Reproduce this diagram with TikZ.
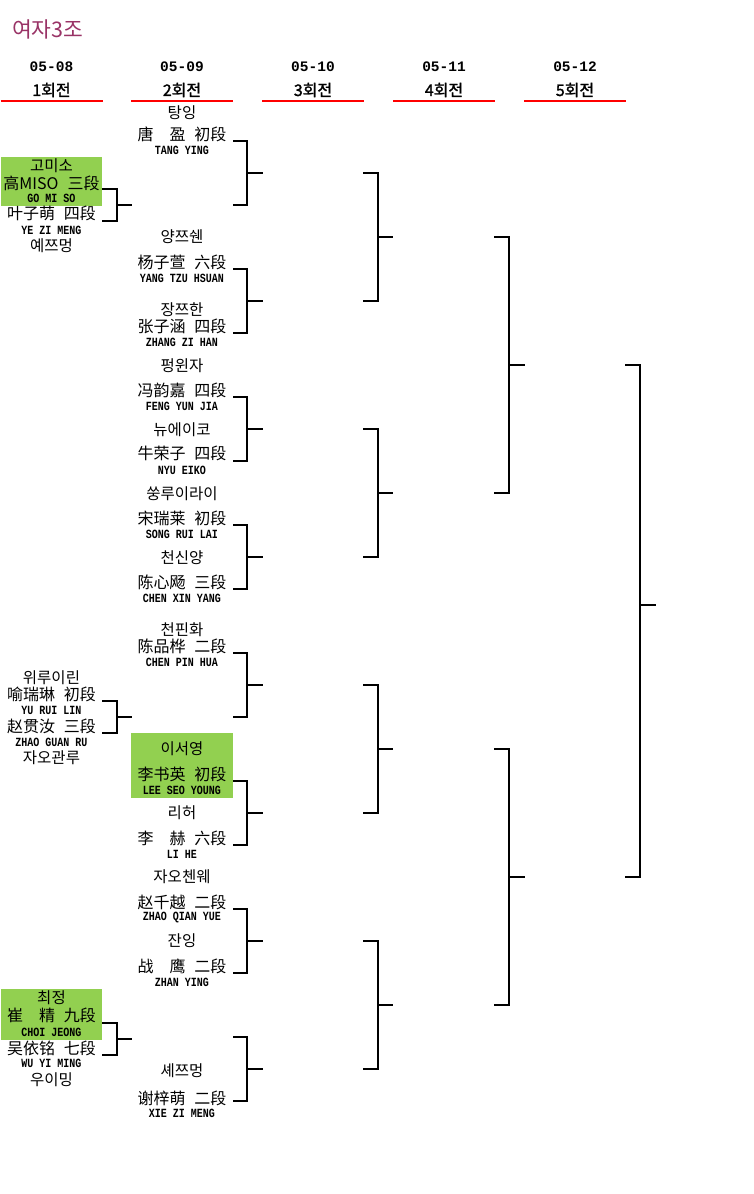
\documentclass[tikz,border=0pt]{standalone}
\usepackage{fontspec}
\usepackage{graphicx}
\newfontfamily\krf[AutoFakeBold=1.5]{Noto Sans CJK KR}
\newfontfamily\zhf[WordSpace=2.5]{Noto Sans CJK SC}
\newfontfamily\monof{Liberation Mono}
\definecolor{wgreen}{HTML}{92D050}
\definecolor{titlec}{HTML}{993366}
\newcommand\rs[1]{\scalebox{1}[1.25]{#1}}
\newcommand\brk[7]{%
  \coordinate (#1t) at (#2,#5);
  \coordinate (#1b) at (#2,#6);
  \coordinate (#1v) at (#3,#7);
  \coordinate (#1m) at (#4,#7);
  \draw[bline] (#1t) -| (#1v) |- (#1b);
  \draw[bline] (#1v) -- (#1m);
}
\tikzset{
  kr/.style={font=\krf\fontsize{15.5}{17}\selectfont, inner sep=0pt},
  zh/.style={font=\zhf\fontsize{16}{18}\selectfont, inner sep=0pt},
  ro/.style={font=\monof\bfseries\fontsize{10}{12}\selectfont, inner sep=0pt},
  hdate/.style={font=\monof\bfseries\fontsize{14.5}{16}\selectfont, inner sep=0pt},
  hround/.style={font=\krf\bfseries\fontsize{16}{18}\selectfont, inner sep=0pt},
  ttl/.style={font=\krf\fontsize{21.5}{23}\selectfont, text=titlec, inner sep=0pt, anchor=west},
  bline/.style={line width=1.3pt, black},
  redline/.style={line width=2pt, red},
  winbox/.style={fill=wgreen, draw=none}
}
\begin{document}
\begin{tikzpicture}[x=1pt,y=-1pt]
\useasboundingbox (0,0) rectangle (753,1194);
% title
\node[ttl] (title) at (12,29) {여자3조};
% headers
\foreach \i/\cx/\d/\r in {1/51.5/05-08/1, 2/182/05-09/2, 3/313/05-10/3, 4/444/05-11/4, 5/575/05-12/5}{
  \node[hdate] (hd\i) at (\cx,67) {\d};
  \node[hround] (hr\i) at (\cx,90) {\r 회전};
  \draw[redline] (\cx-51,100.5) -- (\cx+51,100.5);
}
% winner boxes
\fill[winbox] (1,157) rectangle (102,206);
\fill[winbox] (1,989) rectangle (102,1040);
\fill[winbox] (131,733) rectangle (233,798);
% brackets round 1
\brk{ra}{102}{117}{132}{189}{221}{205}
\brk{rb}{102}{117}{132}{701}{733}{717}
\brk{rc}{102}{117}{132}{1023}{1055}{1039}
% brackets round 2
\brk{sa}{233}{247}{263}{141}{205}{173}
\brk{sb}{233}{247}{263}{269}{333}{301}
\brk{sc}{233}{247}{263}{397}{461}{429}
\brk{sd}{233}{247}{263}{525}{589}{557}
\brk{se}{233}{247}{263}{653}{717}{685}
\brk{sf}{233}{247}{263}{781}{845}{813}
\brk{sg}{233}{247}{263}{909}{973}{941}
\brk{sh}{233}{247}{263}{1037}{1101}{1069}
% round 3
\brk{ta}{363}{378}{393}{173}{301}{237}
\brk{tb}{363}{378}{393}{429}{557}{493}
\brk{tc}{363}{378}{393}{685}{813}{749}
\brk{td}{363}{378}{393}{941}{1069}{1005}
% round 4
\brk{ua}{494}{509}{525}{237}{493}{365}
\brk{ub}{494}{509}{525}{749}{1005}{877}
% round 5
\brk{va}{625}{640}{656}{365}{877}{605}
% column 1 names
\node[kr] (a1k) at (51.5,166) {고미소};
\node[zh] (a1c) at (51.5,183) {高MISO 三段};
\node[ro] (a1r) at (51.5,198) {\rs{GO MI SO}};
\node[zh] (a2c) at (51.5,213) {叶子萌 四段};
\node[ro] (a2r) at (51.5,230) {\rs{YE ZI MENG}};
\node[kr] (a2k) at (51.5,246) {예쯔멍};
\node[kr] (a3k) at (51.5,678) {위루이린};
\node[zh] (a3c) at (51.5,694) {喻瑞琳 初段};
\node[ro] (a3r) at (51.5,710) {\rs{YU RUI LIN}};
\node[zh] (a4c) at (51.5,726) {赵贯汝 三段};
\node[ro] (a4r) at (51.5,742) {\rs{ZHAO GUAN RU}};
\node[kr] (a4k) at (51.5,758) {자오관루};
\node[kr] (a5k) at (51.5,998) {최정};
\node[zh] (a5c) at (51.5,1015) {崔　精 九段};
\node[ro] (a5r) at (51.5,1032) {\rs{CHOI JEONG}};
\node[zh] (a6c) at (51.5,1048) {吴依铭 七段};
\node[ro] (a6r) at (51.5,1063) {\rs{WU YI MING}};
\node[kr] (a6k) at (51.5,1080) {우이밍};
% column 2 names
\node[kr] (b1k) at (182,113) {탕잉};
\node[zh] (b1c) at (182,134) {唐　盈 初段};
\node[ro] (b1r) at (182,150) {\rs{TANG YING}};
\node[kr] (b3k) at (182,237) {양쯔쉔};
\node[zh] (b3c) at (182,262) {杨子萱 六段};
\node[ro] (b3r) at (182,278) {\rs{YANG TZU HSUAN}};
\node[kr] (b4k) at (182,310) {장쯔한};
\node[zh] (b4c) at (182,326) {张子涵 四段};
\node[ro] (b4r) at (182,342) {\rs{ZHANG ZI HAN}};
\node[kr] (b5k) at (182,366) {펑윈자};
\node[zh] (b5c) at (182,390) {冯韵嘉 四段};
\node[ro] (b5r) at (182,406) {\rs{FENG YUN JIA}};
\node[kr] (b6k) at (182,430) {뉴에이코};
\node[zh] (b6c) at (182,453) {牛荣子 四段};
\node[ro] (b6r) at (182,470) {\rs{NYU EIKO}};
\node[kr] (b7k) at (182,494) {쑹루이라이};
\node[zh] (b7c) at (182,518) {宋瑞莱 初段};
\node[ro] (b7r) at (182,534) {\rs{SONG RUI LAI}};
\node[kr] (b8k) at (182,558) {천신양};
\node[zh] (b8c) at (182,582) {陈心飏 三段};
\node[ro] (b8r) at (182,598) {\rs{CHEN XIN YANG}};
\node[kr] (b9k) at (182,630) {천핀화};
\node[zh] (b9c) at (182,646) {陈品桦 二段};
\node[ro] (b9r) at (182,662) {\rs{CHEN PIN HUA}};
\node[kr] (b11k) at (182,749) {이서영};
\node[zh] (b11c) at (182,774) {李书英 初段};
\node[ro] (b11r) at (182,790) {\rs{LEE SEO YOUNG}};
\node[kr] (b12k) at (182,813) {리허};
\node[zh] (b12c) at (182,838) {李　赫 六段};
\node[ro] (b12r) at (182,854) {\rs{LI HE}};
\node[kr] (b13k) at (182,877) {자오첸웨};
\node[zh] (b13c) at (182,902) {赵千越 二段};
\node[ro] (b13r) at (182,918) {\rs{ZHAO QIAN YUE}};
\node[kr] (b14k) at (182,941) {잔잉};
\node[zh] (b14c) at (182,966) {战　鹰 二段};
\node[ro] (b14r) at (182,982) {\rs{ZHAN YING}};
\node[kr] (b16k) at (182,1071) {셰쯔멍};
\node[zh] (b16c) at (182,1098) {谢梓萌 二段};
\node[ro] (b16r) at (182,1113) {\rs{XIE ZI MENG}};
\end{tikzpicture}
\end{document}
